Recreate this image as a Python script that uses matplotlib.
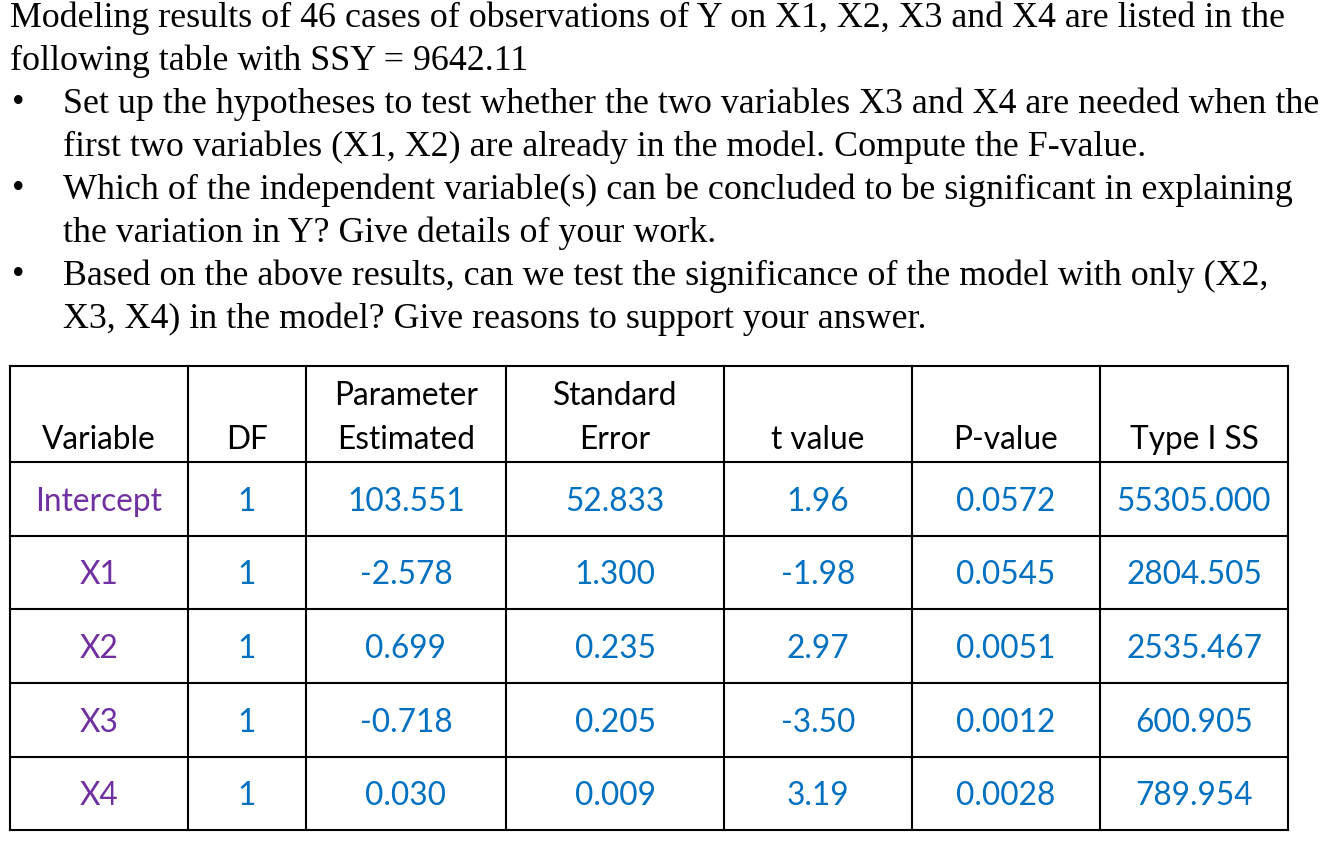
import matplotlib
matplotlib.use("Agg")
import matplotlib.pyplot as plt

W, H = 1330, 854
intro_lines = [
    "Modeling results of 46 cases of observations of Y on X1, X2, X3 and X4 are listed in the",
    "following table with SSY = 9642.11",
]
bullets = [
    ["Set up the hypotheses to test whether the two variables X3 and X4 are needed when the",
     "first two variables (X1, X2) are already in the model. Compute the F-value."],
    ["Which of the independent variable(s) can be concluded to be significant in explaining",
     "the variation in Y? Give details of your work."],
    ["Based on the above results, can we test the significance of the model with only (X2,",
     "X3, X4) in the model? Give reasons to support your answer."],
]
headers = [("", "Variable"), ("", "DF"), ("Parameter", "Estimated"), ("Standard", "Error"),
           ("", "t value"), ("", "P-value"), ("", "Type I SS")]
variables = ["Intercept", "X1", "X2", "X3", "X4"]
df_vals = ["1", "1", "1", "1", "1"]
estimates = ["103.551", "-2.578", "0.699", "-0.718", "0.030"]
std_errors = ["52.833", "1.300", "0.235", "0.205", "0.009"]
t_values = ["1.96", "-1.98", "2.97", "-3.50", "3.19"]
p_values = ["0.0572", "0.0545", "0.0051", "0.0012", "0.0028"]
type1_ss = ["55305.000", "2804.505", "2535.467", "600.905", "789.954"]

fig = plt.figure(figsize=(W / 100, H / 100), dpi=100)
ax = fig.add_axes([0, 0, 1, 1])
ax.set_xlim(0, W)
ax.set_ylim(H, 0)
ax.axis("off")

serif = dict(family="Liberation Serif", fontsize=25.8, color="black", va="center")
y = 18
for line in intro_lines:
    ax.text(10, y, line, **serif)
    y += 43
for b in bullets:
    ax.text(12, y, "•", **serif)
    for i, line in enumerate(b):
        ax.text(63, y, line, **serif)
        y += 43

xs = [10, 188, 306, 506, 724, 912, 1100, 1288]
ys = [367, 463, 537, 610, 684, 758, 831]
for x in xs:
    ax.plot([x, x], [ys[0], ys[-1]], color="black", lw=1.5)
for yy in ys:
    ax.plot([xs[0], xs[-1]], [yy, yy], color="black", lw=1.5)

tf = dict(family="Lato", fontsize=22.8, ha="center", va="center")
for j, (h1, h2) in enumerate(headers):
    cx = (xs[j] + xs[j + 1]) / 2
    if h1:
        ax.text(cx, 396, h1, color="black", **tf)
    ax.text(cx, 440, h2, color="black", **tf)

cols = [variables, df_vals, estimates, std_errors, t_values, p_values, type1_ss]
for i in range(len(variables)):
    cy = (ys[i + 1] + ys[i + 2]) / 2 + 2
    for j, col in enumerate(cols):
        cx = (xs[j] + xs[j + 1]) / 2
        color = "#7030A0" if j == 0 else "#0070C0"
        ax.text(cx, cy, col[i], color=color, **tf)

fig.savefig("out.png", dpi=100)
